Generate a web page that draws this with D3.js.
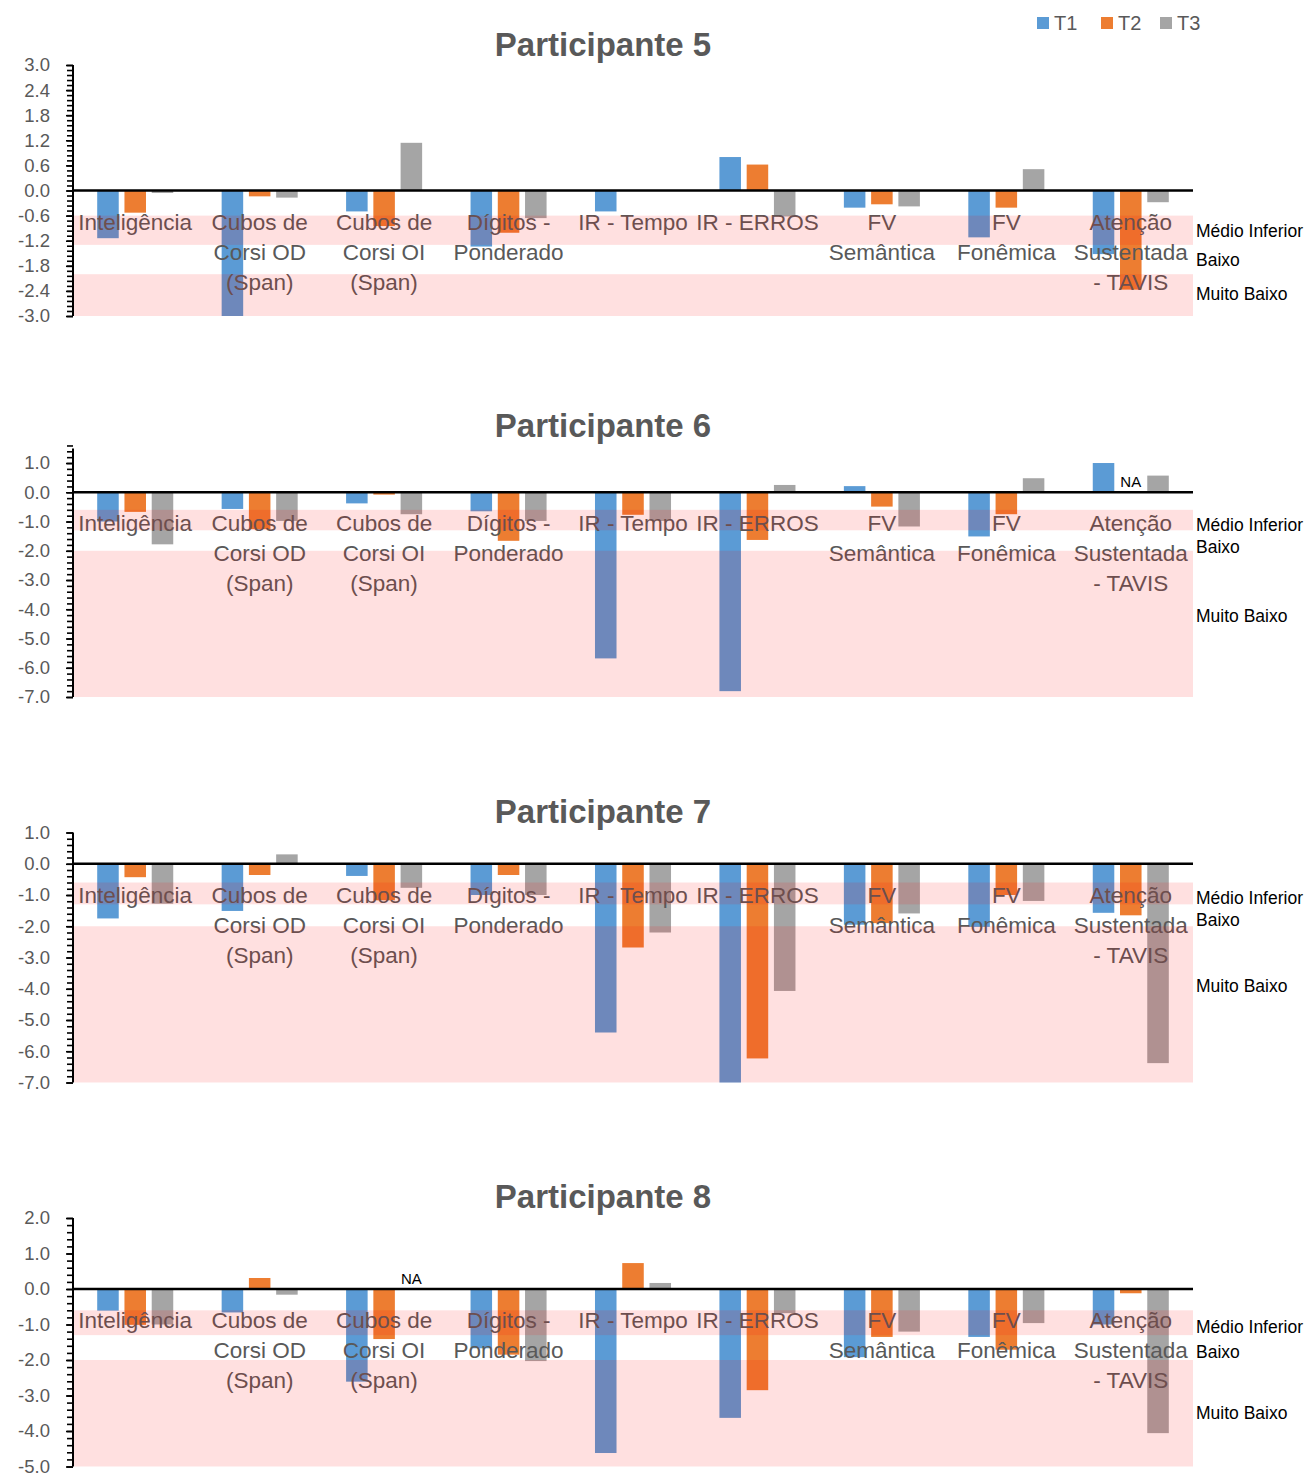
<!DOCTYPE html>
<html><head><meta charset="utf-8">
<script src="https://cdn.jsdelivr.net/npm/d3@7"></script>
<style>body{margin:0;background:#fff} svg{display:block}</style>
</head><body><svg id="chart" width="1311" height="1475"></svg>
<script>
// ---------- DATA ----------
const categories = ["Inteligência","Cubos de Corsi OD (Span)","Cubos de Corsi OI (Span)","Dígitos - Ponderado","IR - Tempo","IR - ERROS","FV Semântica","FV Fonêmica","Atenção Sustentada - TAVIS"];
const categoryLines = [["Inteligência"],["Cubos de","Corsi OD","(Span)"],["Cubos de","Corsi OI","(Span)"],["Dígitos -","Ponderado"],["IR - Tempo"],["IR - ERROS"],["FV","Semântica"],["FV","Fonêmica"],["Atenção","Sustentada","- TAVIS"]];
const seriesNames = ["T1","T2","T3"];
const participants = ["Participante 5","Participante 6","Participante 7","Participante 8"];

const p5T1 = [-1.14, -3.0, -0.50, -1.34, -0.50, 0.80, -0.41, -1.12, -1.52];
const p5T2 = [-0.53, -0.14, -0.85, -1.01, null, 0.62, -0.33, -0.41, -2.37];
const p5T3 = [-0.06, -0.17, 1.14, -0.66, null, -0.62, -0.38, 0.51, -0.28];

const p6T1 = [-1.0, -0.57, -0.38, -0.65, -5.68, -6.8, 0.21, -1.51, 1.0];
const p6T2 = [-0.67, -1.26, -0.08, -1.66, -0.77, -1.63, -0.49, -0.75, null];
const p6T3 = [-1.78, -0.98, -0.75, -0.98, -0.98, 0.25, -1.17, 0.48, 0.57];

const p7T1 = [-1.75, -1.51, -0.39, -1.0, -5.4, -7.0, -1.95, -2.02, -1.57];
const p7T2 = [-0.43, -0.36, -1.17, -0.36, -2.68, -6.23, -1.9, -1.0, -1.65];
const p7T3 = [-1.28, 0.30, -0.77, -1.0, -2.2, -4.07, -1.59, -1.19, -6.38];

const p8T1 = [-0.61, -0.66, -2.61, -1.67, -4.62, -3.63, -1.92, -1.35, -1.0];
const p8T2 = [-1.01, 0.31, -1.41, -1.85, 0.73, -2.85, -1.35, -1.71, -0.12];
const p8T3 = [-1.0, -0.16, null, -2.03, 0.17, -0.68, -1.2, -0.96, -4.06];

const panelSeries = [[p5T1,p5T2,p5T3],[p6T1,p6T2,p6T3],[p7T1,p7T2,p7T3],[p8T1,p8T2,p8T3]];
const yDomains = [[-3,3],[-7,1.5],[-7,1],[-5,2]];
const yMajorSteps = [0.6,1,1,1];
const bandLabels = ["Médio Inferior","Baixo","Muito Baixo"];
const shadedBands = [[-0.6,-1.3],[-2.0,"min"]];
const naMarks = [{panel:1, category:8, series:"T2"},{panel:3, category:2, series:"T3"}];

// ---------- LAYOUT ----------
const colors = {T1:"#5B9BD5", T2:"#ED7D31", T3:"#A5A5A5"};
const layout = {
  x0: 73, x1: 1193, titleX: 603,
  panels: [
    {titleY: 56,   yBottom: 316,   yTop: 65,    labelAt: [-0.97,-1.66,-2.46]},
    {titleY: 437,  yBottom: 697,   yTop: 448.4, labelAt: [-1.13,-1.88,-4.22]},
    {titleY: 823,  yBottom: 1082.5,yTop: 832.5, labelAt: [-1.10,-1.80,-3.90]},
    {titleY: 1208, yBottom: 1466.5,yTop: 1218,  labelAt: [-1.06,-1.76,-3.50]}
  ]
};
const FONT = "'Liberation Sans', Arial, sans-serif";
const svg = d3.select("#chart");

const x0 = d3.scaleBand().domain(categories).range([layout.x0, layout.x1]).paddingInner(0.389).paddingOuter(0.1945);
const x1 = d3.scaleBand().domain(seriesNames).range([0, x0.bandwidth()]).paddingInner(0.21).paddingOuter(0);

function fmt(v){ const s = (Math.round(v*10)/10).toFixed(1); return s === "-0.0" ? "0.0" : s; }

layout.panels.forEach((p, pi) => {
  const dom = yDomains[pi];
  const y = d3.scaleLinear().domain(dom).range([p.yBottom, p.yTop]);
  const g = svg.append("g");
  const series = panelSeries[pi];

  // bars
  seriesNames.forEach((s, si) => {
    g.append("g").selectAll("rect")
      .data(categories.map((c, ci) => ({c, v: series[si][ci]})).filter(d => d.v !== null))
      .join("rect")
      .attr("x", d => x0(d.c) + x1(s))
      .attr("width", x1.bandwidth())
      .attr("y", d => y(Math.max(0, d.v)))
      .attr("height", d => Math.abs(y(d.v) - y(0)))
      .attr("fill", colors[s]);
  });

  // NA labels
  naMarks.filter(m => m.panel === pi).forEach(m => {
    g.append("text")
      .attr("x", x0(categories[m.category]) + x1(m.series) + x1.bandwidth()/2)
      .attr("y", y(0) - 5)
      .attr("text-anchor", "middle")
      .attr("font-family", FONT).attr("font-size", 15).attr("fill", "#000")
      .text("NA");
  });

  // category labels
  const lab = g.append("g");
  categories.forEach((c, ci) => {
    const t = lab.append("text")
      .attr("text-anchor", "middle")
      .attr("font-family", FONT).attr("font-size", 22.5).attr("fill", "#595959");
    categoryLines[ci].forEach((line, li) => {
      t.append("tspan")
        .attr("x", x0(c) + x0.bandwidth()/2)
        .attr("y", y(0) + 39 + li*30)
        .text(line);
    });
  });

  // shaded bands (translucent overlay)
  shadedBands.forEach(b => {
    const top = y(b[0]);
    const bot = y(b[1] === "min" ? dom[0] : b[1]);
    g.append("rect")
      .attr("x", layout.x0 + 1).attr("width", layout.x1 - layout.x0 - 1)
      .attr("y", top).attr("height", bot - top)
      .attr("fill", "rgb(255,0,0)").attr("fill-opacity", 0.12);
  });

  // band labels on the right
  bandLabels.forEach((t, i) => {
    g.append("text")
      .attr("x", layout.x1 + 3).attr("y", y(p.labelAt[i]))
      .attr("dy", "0.35em")
      .attr("font-family", FONT).attr("font-size", 17.5).attr("fill", "#000")
      .text(t);
  });

  // zero line
  g.append("line")
    .attr("x1", layout.x0).attr("x2", layout.x1)
    .attr("y1", y(0)).attr("y2", y(0))
    .attr("stroke", "#000").attr("stroke-width", 2.5);

  // y axis
  const step = yMajorSteps[pi];
  const majors = d3.range(0, Math.round((dom[1]-dom[0])/step + 1e-6) + 1).map(k => +(dom[0] + k*step).toFixed(3)).filter(v => v <= dom[1] + 1e-9);
  const minorStep = step/5;
  const minors = d3.range(0, Math.round((dom[1]-dom[0])/minorStep + 1e-6) + 1).map(k => +(dom[0] + k*minorStep).toFixed(3));
  const yAxisMinor = d3.axisLeft(y).tickValues(minors).tickSize(6).tickFormat("");
  const yAxisMajor = d3.axisLeft(y).tickValues(majors).tickSize(7).tickPadding(16).tickFormat(fmt);
  const ga1 = g.append("g").attr("transform", `translate(${layout.x0},0)`).call(yAxisMinor);
  const ga2 = g.append("g").attr("transform", `translate(${layout.x0},0)`).call(yAxisMajor);
  [ga1, ga2].forEach(ga => {
    ga.select(".domain").remove();
    ga.selectAll("line").attr("stroke", "#000").attr("stroke-width", 1.6);
  });
  ga2.selectAll("text").attr("font-family", FONT).attr("font-size", 18.5).attr("fill", "#595959");
  g.append("line")
    .attr("x1", layout.x0).attr("x2", layout.x0)
    .attr("y1", p.yTop).attr("y2", p.yBottom)
    .attr("stroke", "#000").attr("stroke-width", 2);

  // title
  g.append("text")
    .attr("x", layout.titleX).attr("y", p.titleY)
    .attr("text-anchor", "middle")
    .attr("font-family", FONT).attr("font-weight", "bold").attr("font-size", 33).attr("fill", "#595959")
    .text(participants[pi]);
});

// legend
const legendX = [1037, 1101, 1160];
const lg = svg.append("g");
seriesNames.forEach((s, i) => {
  lg.append("rect").attr("x", legendX[i]).attr("y", 17).attr("width", 12).attr("height", 12).attr("fill", colors[s]);
  lg.append("text").attr("x", legendX[i] + 17).attr("y", 23).attr("dy", "0.35em")
    .attr("font-family", FONT).attr("font-size", 20).attr("fill", "#595959").text(s);
});
</script>
</body></html>
